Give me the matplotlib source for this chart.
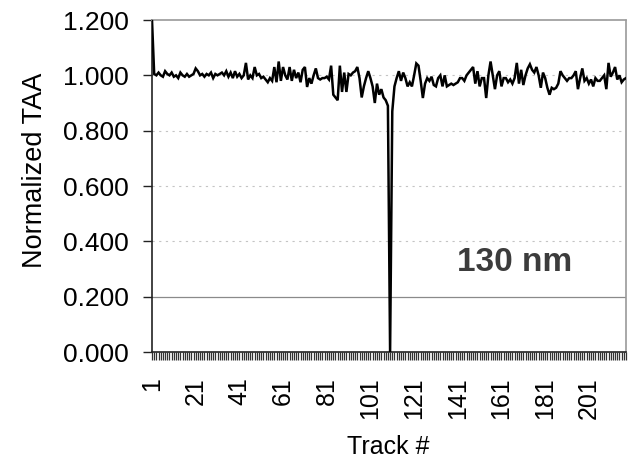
import numpy as np
import matplotlib
matplotlib.use("Agg")
import matplotlib.pyplot as plt
from matplotlib.ticker import FixedLocator, FuncFormatter

# ---- data ----
taa_values = [
    1.200, 1.005, 1.000, 1.010, 1.000, 0.995, 1.015, 1.005, 1.000, 1.010,
    0.995, 1.000, 0.990, 1.010, 1.000, 0.995, 1.005, 0.995, 1.000, 1.005,
    1.025, 1.015, 1.000, 1.005, 0.995, 1.005, 1.000, 1.010, 0.990, 1.005,
    1.000, 1.005, 1.010, 1.000, 1.015, 0.995, 1.010, 0.990, 1.015, 0.995,
    1.005, 0.990, 1.000, 1.045, 0.985, 1.000, 0.990, 1.030, 1.000, 1.005,
    0.990, 0.995, 0.985, 0.975, 0.990, 0.980, 1.030, 0.975, 1.050, 0.980,
    1.030, 1.000, 0.985, 1.030, 0.980, 1.020, 0.990, 1.010, 0.975, 1.020,
    1.030, 0.958, 0.990, 0.970, 1.000, 1.025, 0.990, 0.985, 0.990, 0.990,
    0.995, 0.985, 1.035, 0.930, 0.920, 0.910, 1.035, 0.940, 1.010, 0.940,
    1.005, 1.000, 1.010, 1.015, 1.030, 0.990, 0.920, 0.960, 0.990, 1.015,
    0.990, 0.960, 0.900, 0.970, 0.930, 0.950, 0.920, 0.910, 0.890, 0.000,
    0.870, 0.960, 0.990, 1.015, 0.980, 1.010, 0.990, 0.960, 0.975, 0.960,
    1.000, 1.043, 1.035, 0.980, 0.918, 0.970, 0.990, 0.980, 0.995, 0.965,
    0.960, 0.990, 1.000, 0.960, 1.000, 0.960, 0.965, 0.970, 0.965, 0.970,
    0.975, 0.990, 0.990, 0.980, 1.000, 1.010, 1.020, 1.030, 0.970, 1.015,
    0.960, 0.990, 0.990, 0.918, 1.000, 1.050, 1.000, 0.950, 1.000, 1.015,
    0.960, 0.990, 0.990, 0.975, 0.985, 0.970, 0.990, 1.045, 0.970, 1.020,
    0.965, 1.000, 1.025, 1.040, 1.020, 1.010, 1.030, 1.000, 0.955, 1.010,
    0.990, 0.955, 0.930, 0.955, 0.950, 0.955, 0.970, 1.015, 1.000, 0.990,
    0.980, 0.990, 0.990, 1.000, 1.015, 0.950, 0.990, 1.025, 0.980, 0.990,
    0.970, 0.985, 0.960, 0.990, 0.980, 0.980, 0.990, 1.000, 0.950, 1.045,
    0.995, 1.010, 1.030, 0.985, 1.000, 0.975, 0.985, 0.990,
]
tracks = np.arange(1, len(taa_values) + 1)
x_tick_labels = [1, 21, 41, 61, 81, 101, 121, 141, 161, 181, 201]
y_ticks = [0.0, 0.2, 0.4, 0.6, 0.8, 1.0, 1.2]
annotation = "130 nm"

plt.rcParams['font.family'] = ['Liberation Sans', 'DejaVu Sans']

W, H = 633, 459
fig = plt.figure(figsize=(W / 100, H / 100), dpi=100)
L, R, T, B = 152, 626, 20, 352
ax = fig.add_axes([L / W, 1 - B / H, (R - L) / W, (B - T) / H])

# gridlines
for yv in [0.4, 0.6, 0.8, 1.0]:
    ax.axhline(yv, color='#c4c4c4', lw=0.8, ls=(0, (2, 4)), zorder=1)
ax.axhline(0.2, color='#8a8a8a', lw=0.9, zorder=1)

ax.plot(tracks, taa_values, color='black', lw=1.8, zorder=3,
        solid_joinstyle='miter')

ax.set_xlim(1, len(taa_values))
ax.set_ylim(0, 1.2)

ax.yaxis.set_major_locator(FixedLocator(y_ticks))
ax.yaxis.set_major_formatter(FuncFormatter(lambda v, p: f"{v:.3f}"))
ax.tick_params(axis='y', direction='out', length=6.5, width=1.0,
               colors='#222222', labelsize=19, pad=10, labelcolor='black')

ax.xaxis.set_major_locator(FixedLocator(x_tick_labels))
ax.set_xticklabels([str(v) for v in x_tick_labels], rotation=90, va='top')
ax.xaxis.set_minor_locator(FixedLocator(tracks))
ax.tick_params(axis='x', which='both', direction='out', length=6,
               width=0.9, colors='#333333', labelsize=18, pad=12,
               labelcolor='black')

for s in ['left', 'bottom']:
    ax.spines[s].set_color('#222222')
    ax.spines[s].set_linewidth(1.2)
for s in ['top', 'right']:
    ax.spines[s].set_color('#9a9a9a')
    ax.spines[s].set_linewidth(1.2)
    ax.spines[s].set_linestyle((0, (1, 1)))

ax.text(0.766, 0.271, annotation, transform=ax.transAxes, ha='center',
        va='center', fontsize=24, fontweight='bold', color='#3c3c3c')

fig.text(35 / W, 1 - 170 / H, "Normalized TAA", rotation=90, ha='center',
         va='center', fontsize=19.5)
fig.text(388 / W, 1 - 447 / H, "Track #", ha='center', va='center',
         fontsize=18)

fig.savefig("out.png", dpi=100)
